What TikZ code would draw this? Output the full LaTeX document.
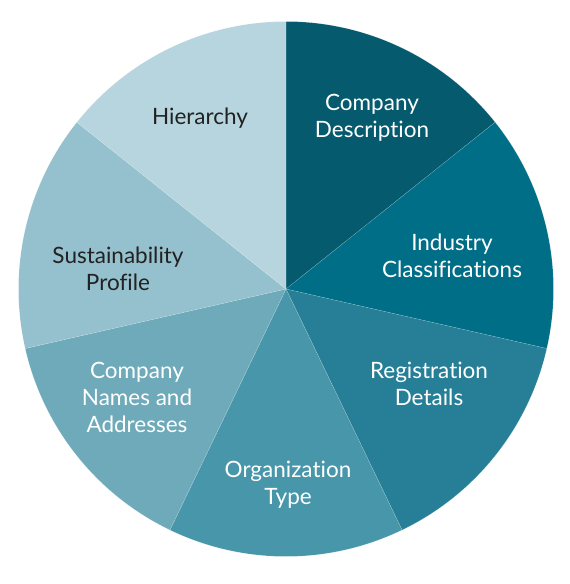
\documentclass[tikz,border=0pt]{standalone}
\usepackage{fontspec}
\setmainfont[Ligatures=NoCommon]{Lato}
\definecolor{cA}{HTML}{055A6E}
\definecolor{cB}{HTML}{006E87}
\definecolor{cC}{HTML}{267F97}
\definecolor{cD}{HTML}{4896AA}
\definecolor{cE}{HTML}{6EAABA}
\definecolor{cF}{HTML}{95C0CD}
\definecolor{cG}{HTML}{B6D5DE}
\definecolor{darktext}{HTML}{222222}
\tikzset{
  lbl/.style={align=center, font=\fontsize{22.5}{27}\selectfont, inner sep=0pt},
  wlbl/.style={lbl, text=white},
  dlbl/.style={lbl, text=darktext},
  seam/.style={draw=white, draw opacity=0.25, line width=0.4pt}
}
\begin{document}
\begin{tikzpicture}[x=1pt,y=-1pt]
\useasboundingbox (0,0) rectangle (570,584);
\coordinate (c) at (286,289);
\def\R{267.5}
\foreach \a/\col in {90/cA, 38.571/cB, -12.857/cC, -64.286/cD, -115.714/cE, -167.143/cF, 141.429/cG}{
  \fill[\col, seam] (c) -- ++({\R*cos(\a)},{-\R*sin(\a)}) arc[start angle={-\a}, delta angle={51.4286}, radius=\R] -- cycle;
}
\node[wlbl] (desc) at (372,118) {Company\\Description};
\node[wlbl] (ind) at (452,256) {Industry\\Classifications};
\node[wlbl] (reg) at (429,384) {Registration\\Details};
\node[wlbl] (org) at (288,485) {Organization\\Type};
\node[wlbl] (names) at (137,397) {Company\\Names and\\Addresses};
\node[dlbl] (sus) at (118,269) {Sustainability\\Profile};
\node[dlbl] (hier) at (200,118) {Hierarchy};
\end{tikzpicture}
\end{document}
